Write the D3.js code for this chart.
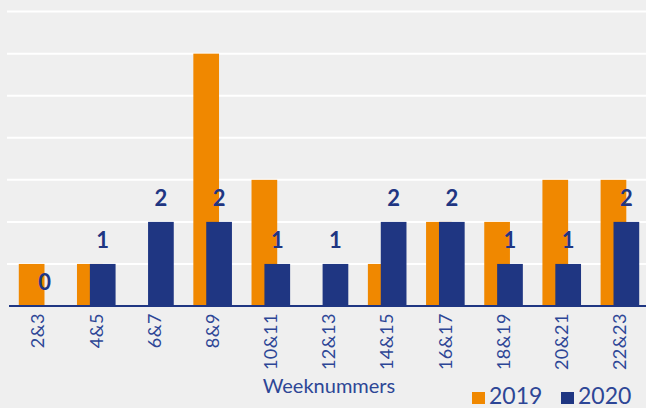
<!DOCTYPE html>
<html>
<head>
<meta charset="utf-8">
<script src="https://cdn.jsdelivr.net/npm/d3@7"></script>
<style>
  body { margin: 0; background: #efefef; }
  svg { display: block; font-family: "Lato", sans-serif; }
</style>
</head>
<body>
<div id="chart"></div>
<script>
var weeks = ["2&3", "4&5", "6&7", "8&9", "10&11", "12&13", "14&15", "16&17", "18&19", "20&21", "22&23"];
var values2019 = [1, 1, 0, 6, 3, 0, 1, 2, 2, 3, 3];
var values2020 = [0, 1, 2, 2, 1, 1, 2, 2, 1, 1, 2];
var yTicks = [1, 2, 3, 4, 5, 6, 7];

var width = 646, height = 408;
var orange = "#f08800", navy = "#1f3682", textNavy = "#2d4696";

var svg = d3.select("#chart").append("svg")
    .attr("width", width)
    .attr("height", height);

svg.append("rect")
    .attr("width", width)
    .attr("height", height)
    .attr("fill", "#efefef");

var x = d3.scaleBand()
    .domain(weeks)
    .range([9, 649])
    .padding(0);

var y = d3.scaleLinear()
    .domain([0, 7])
    .range([306, 11.6]);

var barW = 25.7, shift = 12.9;

// gridlines
svg.append("g")
    .selectAll("line")
    .data(yTicks)
    .enter()
    .append("line")
    .attr("x1", 7)
    .attr("x2", width)
    .attr("y1", function (d) { return y(d); })
    .attr("y2", function (d) { return y(d); })
    .attr("stroke", "#ffffff")
    .attr("stroke-width", 2);

// 2019 bars
svg.append("g")
    .selectAll("rect")
    .data(values2019)
    .enter()
    .append("rect")
    .attr("x", function (d, i) { return x(weeks[i]) + x.bandwidth() / 2 - (barW + shift) / 2; })
    .attr("y", function (d) { return y(d); })
    .attr("width", barW)
    .attr("height", function (d) { return y(0) - y(d); })
    .attr("fill", orange);

// 2020 bars
svg.append("g")
    .selectAll("rect")
    .data(values2020)
    .enter()
    .append("rect")
    .attr("x", function (d, i) { return x(weeks[i]) + x.bandwidth() / 2 - (barW + shift) / 2 + shift; })
    .attr("y", function (d) { return y(d); })
    .attr("width", barW)
    .attr("height", function (d) { return y(0) - y(d); })
    .attr("fill", navy);

// value labels for 2020
svg.append("g")
    .selectAll("text")
    .data(values2020)
    .enter()
    .append("text")
    .attr("x", function (d, i) { return x(weeks[i]) + x.bandwidth() / 2 - (barW + shift) / 2 + shift + barW / 2; })
    .attr("y", function (d) { return y(d) - 16; })
    .attr("text-anchor", "middle")
    .attr("fill", navy)
    .attr("font-size", "22px")
    .attr("font-weight", "bold")
    .text(function (d) { return d; });

// baseline
svg.append("line")
    .attr("x1", 9)
    .attr("x2", width)
    .attr("y1", y(0))
    .attr("y2", y(0))
    .attr("stroke", navy)
    .attr("stroke-width", 2);

// x axis labels (rotated)
var xAxis = d3.axisBottom(x).tickSize(0).tickPadding(0);
var gx = svg.append("g")
    .attr("transform", "translate(0," + (y(0) + 7) + ")")
    .call(xAxis);
gx.select(".domain").remove();
gx.selectAll("text")
    .attr("transform", "rotate(-90)")
    .attr("x", 0)
    .attr("y", 0)
    .attr("dy", "0.35em")
    .attr("text-anchor", "end")
    .attr("fill", textNavy)
    .attr("font-size", "18px")
    .attr("letter-spacing", "0.5px")
    .attr("font-family", "Lato, sans-serif");

// axis title
svg.append("text")
    .attr("x", 329)
    .attr("y", 393)
    .attr("text-anchor", "middle")
    .attr("fill", textNavy)
    .attr("font-size", "20px")
    .text("Weeknummers");

// legend
var legend = svg.append("g");
var items = [{name: "2019", color: orange, x: 472}, {name: "2020", color: navy, x: 561}];
items.forEach(function (it) {
    legend.append("rect")
        .attr("x", it.x)
        .attr("y", 392)
        .attr("width", 13)
        .attr("height", 12)
        .attr("fill", it.color);
    legend.append("text")
        .attr("x", it.x + 17)
        .attr("y", 404)
        .attr("fill", textNavy)
        .attr("font-size", "23px")
        .text(it.name);
});
</script>
</body>
</html>
